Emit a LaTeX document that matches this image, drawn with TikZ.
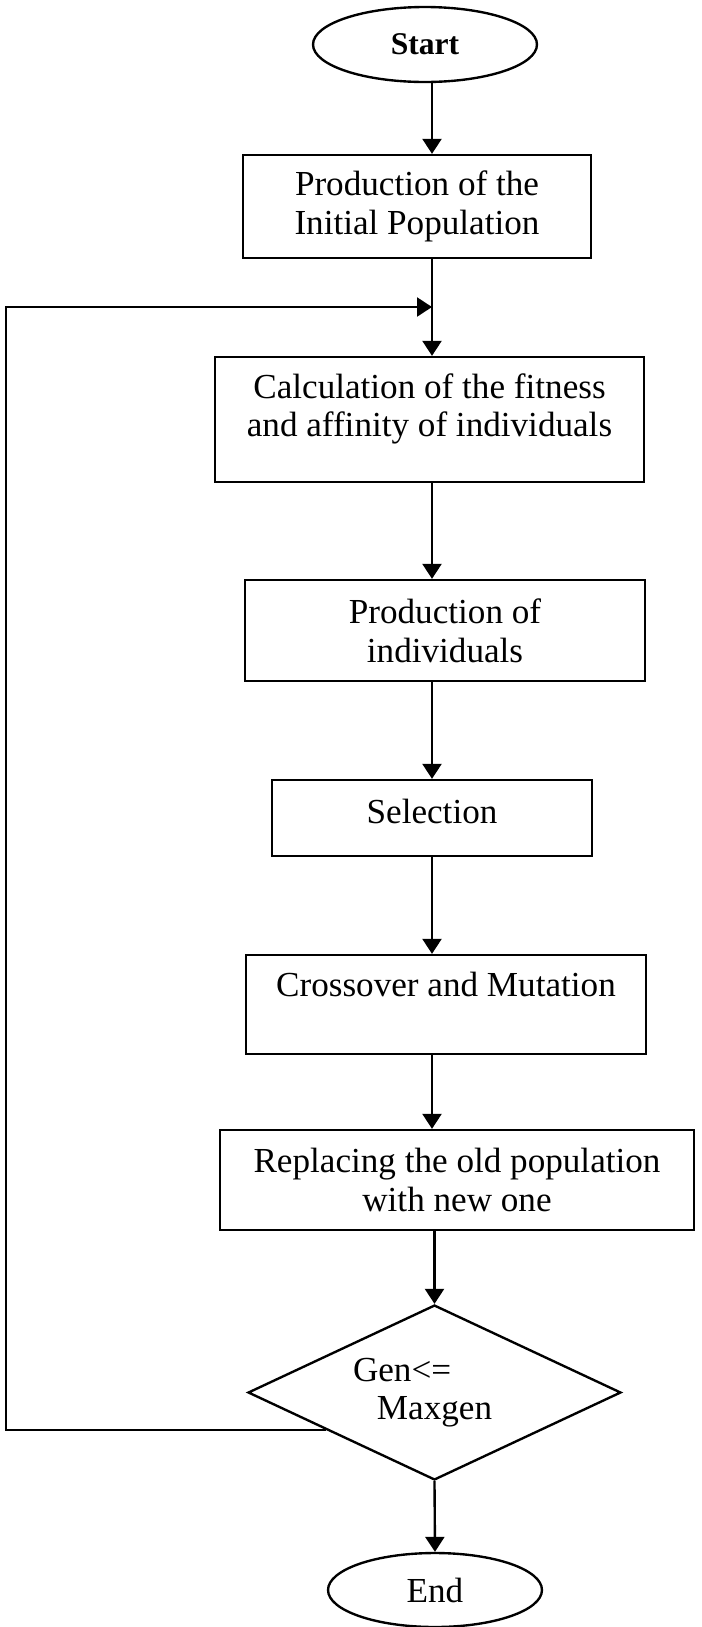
\documentclass[tikz,border=0pt]{standalone}
\usepackage{fontspec}
\setmainfont{Liberation Serif}
\usetikzlibrary{shapes.geometric,arrows.meta}
\begin{document}
\begin{tikzpicture}[x=0.02cm, y=-0.02cm, line width=1.35pt,
	font=\fontsize{20pt}{22pt}\selectfont,
	>={Triangle[width=0.38cm,length=0.3cm]},
	proc/.style={draw, rectangle, align=center, inner sep=0pt},
	term/.style={draw, ellipse, inner sep=0pt},
	test/.style={draw, diamond, aspect=2.13, align=center, inner sep=0pt}]
	\useasboundingbox (0,0) rectangle (701,1627);
	\path
	(432,0) coordinate (axis)
	(6,307) coordinate (back)
		;
	\node[term, minimum width=4.48cm, minimum height=1.5cm, font=\fontsize{18pt}{20pt}\selectfont\bfseries] (start) at (425,44.5) {Start};
	\node[proc, minimum width=6.96cm, minimum height=2.06cm] (init) at (417,206.5) {Production of the\\Initial Population};
	\node[proc, minimum width=8.58cm, minimum height=2.5cm, text depth=0.57cm] (fit) at (429.5,419.5) {Calculation of the fitness\\and affinity of individuals};
	\node[proc, minimum width=8cm, minimum height=2.02cm] (prod) at (445,630.5) {Production of\\individuals};
	\node[proc, minimum width=6.4cm, minimum height=1.52cm, text depth=0.28cm] (sel) at (432,818) {Selection};
	\node[proc, minimum width=8cm, minimum height=1.98cm, text depth=0.79cm] (cross) at (446,1004.5) {Crossover and Mutation};
	\node[proc, minimum width=9.48cm, minimum height=2cm] (repl) at (457,1180) {Replacing the old population\\with new one};
	\node[test, minimum width=7.46cm, minimum height=3.5cm] (dec) at (434.5,1392.5) {\makebox[3.26cm][l]{Gen<=}\\Maxgen};
	\node[term, minimum width=4.28cm, minimum height=1.48cm] (finish) at (435,1590) {End};
	\draw[->] (axis |- start.south) -- (axis |- init.north);
	\draw[->] (axis |- init.south) -- (axis |- fit.north);
	\draw[->] (axis |- fit.south) -- (axis |- prod.north);
	\draw[->] (axis |- prod.south) -- (axis |- sel.north);
	\draw[->] (axis |- sel.south) -- (axis |- cross.north);
	\draw[->] (axis |- cross.south) -- (axis |- repl.north);
	\draw[->] (dec.north |- repl.south) -- (dec.north);
	\draw[->] (dec.south) -- (finish.north);
	\draw[->] (dec.-161) -| (back) -- (axis |- back);
\end{tikzpicture}
\end{document}
